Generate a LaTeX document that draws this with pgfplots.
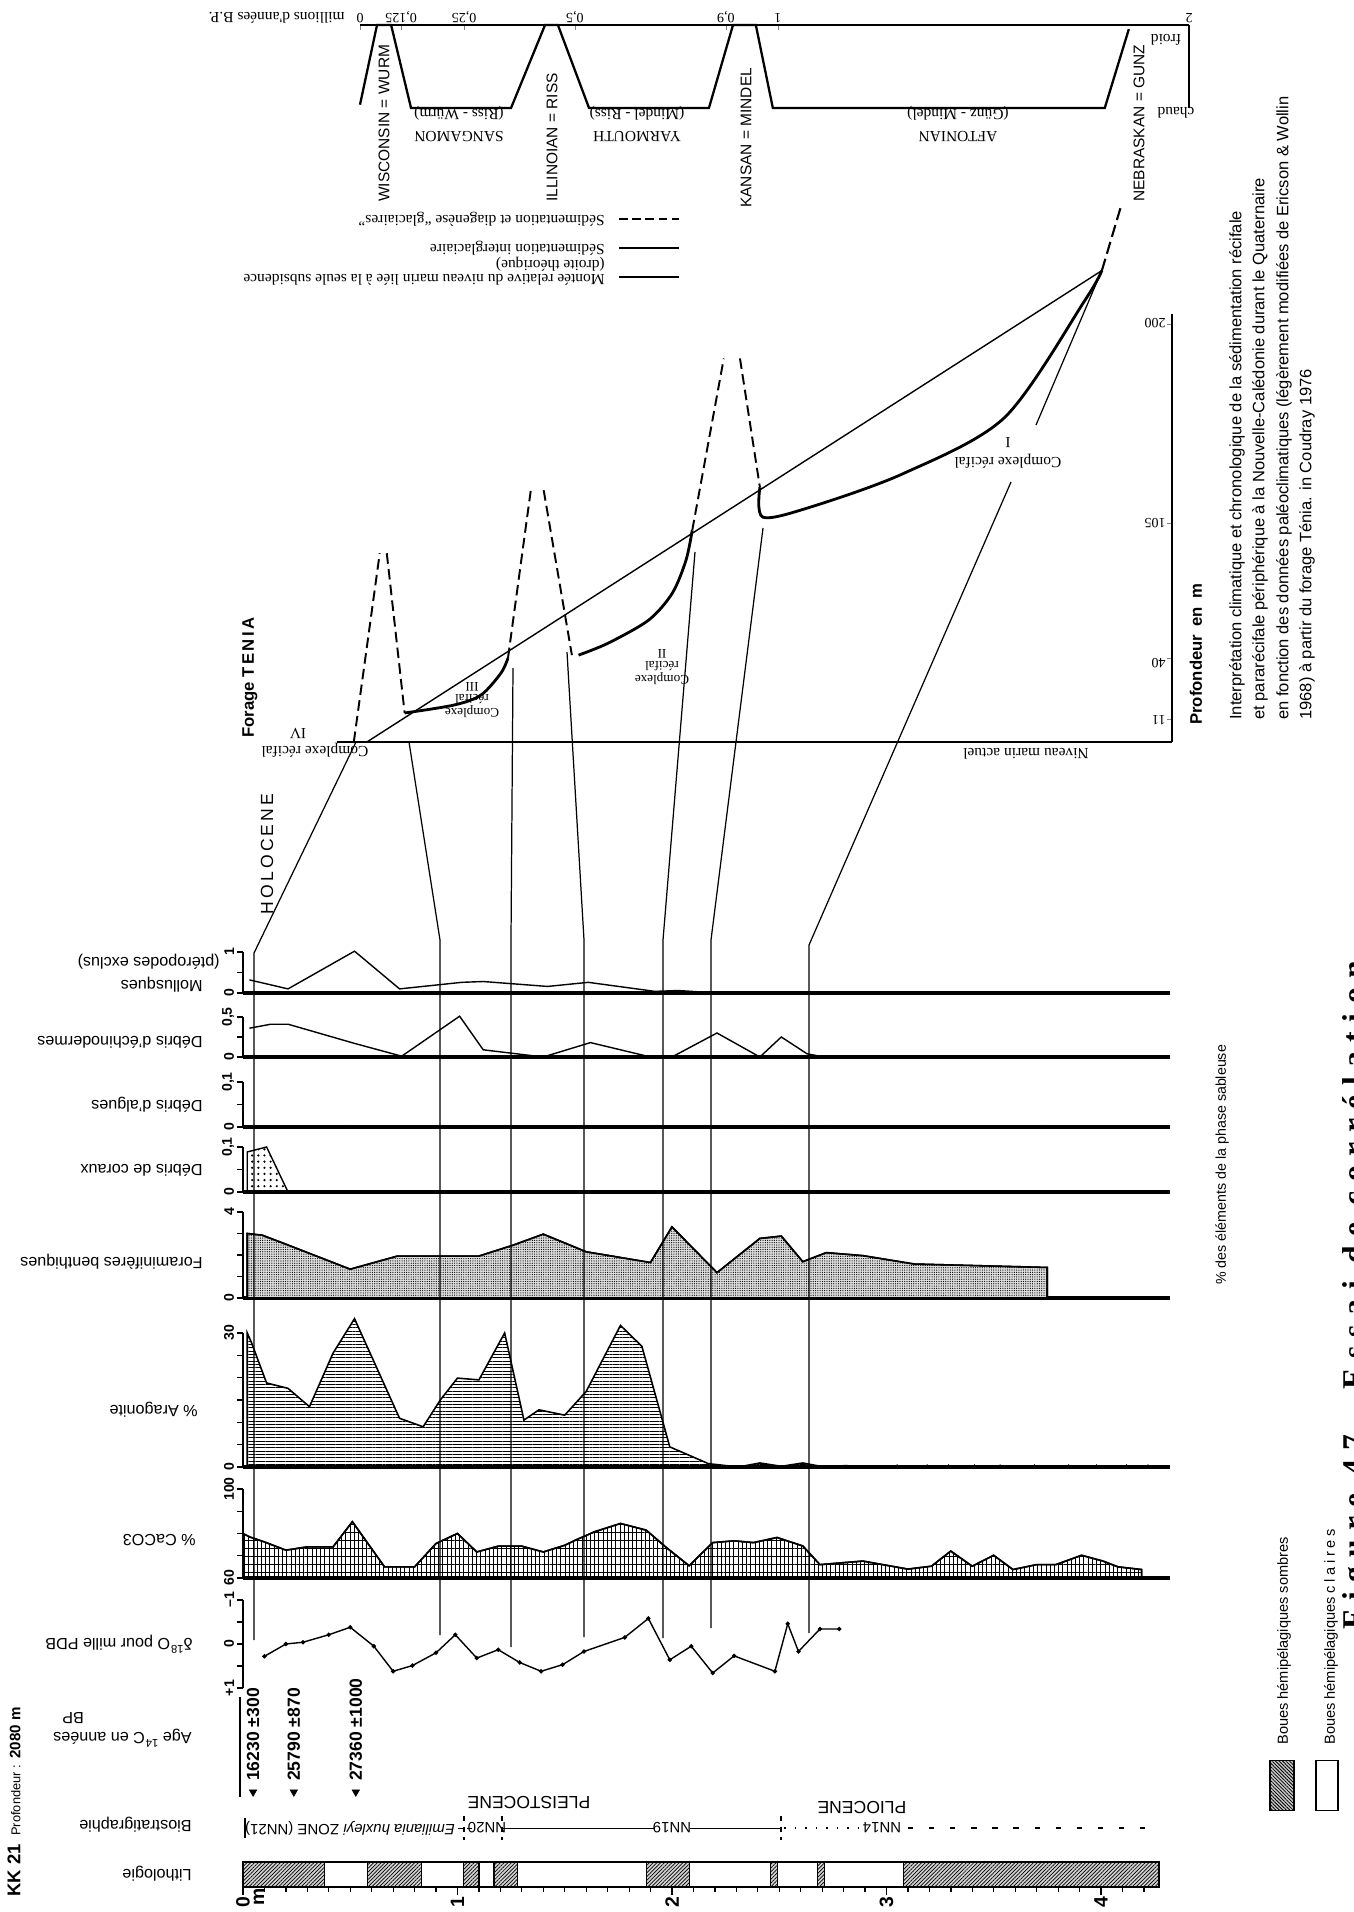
\documentclass[border=0pt]{standalone}
\usepackage{fontspec}
\setmainfont{Liberation Sans}
\newfontfamily\oldf{Liberation Serif}
\usepackage{pgfplots}
\pgfplotsset{compat=1.18}
\usetikzlibrary{patterns,patterns.meta}

\newcommand\fs[1]{\fontsize{#1}{#1}\selectfont}

\pgfplotsset{
  panel/.style={scale only axis, anchor=south west, width=185.3mm,
    xmin=0, xmax=4.32, clip=false,
    axis x line*=bottom, axis y line*=left,
    x axis line style={line width=1.8pt},
    y axis line style={line width=0.8pt},
    xtick=\empty, tick align=outside, major tick length=1.2mm,
    tick style={black, line width=0.7pt},
    yticklabel style={rotate=90, anchor=south, font=\bfseries\fs{8}, inner sep=1.5pt}},
  crv/.style={black, line width=0.8pt},
  litho/.style={draw=black, line width=0.6pt, fill=gray!35,
    postaction={pattern={Lines[angle=45,distance=1.5pt,line width=0.4pt]}}},
}

\begin{document}
\begin{tikzpicture}
\useasboundingbox (0,0) rectangle (270.6mm,-382.4mm);
\clip (0,0) rectangle (270.6mm,-382.4mm);

% ---------------- top: climate curve (millions d'annees B.P.)
\begin{axis}[scale only axis, anchor=south west, at={({360*0.2mm},{-108*0.2mm})},
  width=165.8mm, height=16.6mm, xmin=0, xmax=1.998, ymin=0, ymax=1, clip=false,
  axis x line*=top, axis y line*=right, axis line style={line width=0.9pt},
  xtick={0,0.099,0.251,0.518,0.882,1.007,1.998},
  xticklabels={0,{0,125},{0,25},{0,5},{0,9},1,2},
  xticklabel style={rotate=180, anchor=north, font=\oldf\fs{8}, inner sep=1pt},
  ytick=\empty, tick align=inside, major tick length=1mm]
\addplot[line width=1.3pt] coordinates {(0,0.04)(0.041,1)(0.075,1)(0.123,0)(0.364,0)(0.446,1)(0.477,1)(0.552,0)(0.841,0)(0.899,1)(0.954,1)(0.995,0)(1.795,0)(1.853,0.95)};
\end{axis}

% ---------------- Forage TENIA
\begin{axis}[scale only axis, anchor=south west, at={({337*0.2mm},{-742*0.2mm})},
  width=167mm, height=85.6mm, xmin=-0.055, xmax=1.957, ymin=0, ymax=205, clip=false,
  axis x line*=bottom, axis y line*=right,
  x axis line style={line width=1.6pt}, y axis line style={line width=0.8pt},
  xtick=\empty, ytick={11,40,105,200}, yticklabels={,,,}, tick align=inside,
  major tick length=1mm]
% subsidence line
\addplot[line width=0.8pt] coordinates {(0.017,0)(1.788,225.8)};
\addplot[line width=1.2pt, dash pattern=on 7pt off 3pt] coordinates {(1.788,225.8)(1.836,257.9)};
% glacial spikes (dashed)
\addplot[line width=1.1pt, dash pattern=on 6pt off 3pt] coordinates {(-0.0145,0)(0.048,90.4)};
\addplot[line width=1.1pt, dash pattern=on 6pt off 3pt] coordinates {(0.065,90.4)(0.108,13.9)};
\addplot[line width=1.1pt, dash pattern=on 6pt off 3pt] coordinates {(0.357,40.2)(0.412,120.6)};
\addplot[line width=1.1pt, dash pattern=on 6pt off 3pt] coordinates {(0.443,120.6)(0.511,41.6)};
\addplot[line width=1.1pt, dash pattern=on 6pt off 3pt] coordinates {(0.801,101.4)(0.877,183.7)};
\addplot[line width=1.1pt, dash pattern=on 6pt off 3pt] coordinates {(0.916,183.7)(0.964,122)};
% interglacial sedimentation (solid)
\addplot[line width=1.6pt, smooth, tension=0.5] coordinates {(0.108,13.9)(0.227,17.7)(0.292,22.5)(0.340,33.0)(0.357,40.2)};
\addplot[line width=1.6pt, smooth, tension=0.5] coordinates {(0.527,41.6)(0.599,47.4)(0.696,58.4)(0.753,71.3)(0.786,87.1)(0.801,101.4)};
\addplot[line width=1.6pt, smooth, tension=0.5] coordinates {(0.964,122)(0.971,107.7)(1.084,112.4)(1.311,128.7)(1.554,155.5)(1.747,211.5)(1.788,225.8)};
\end{axis}

% ---------------- Mollusques
\begin{axis}[panel, at={({243*0.2mm},{-993*0.2mm})}, height=8.2mm, ymin=0, ymax=1,
  ytick={0,0.5,1}, yticklabels={0,,1}]
\addplot[crv] coordinates {(0.03,0.32)(0.21,0.10)(0.52,1.02)(0.73,0.10)(1.02,0.26)(1.12,0.28)(1.42,0.16)(1.61,0.26)(1.92,0.04)(2.03,0.06)(2.21,0)};
\addplot[only marks, mark=|, mark size=1.3pt] coordinates {(2.44,0)(2.56,0)(2.68,0)(2.78,0)(3.26,0)(4.0,0)};
\end{axis}

% ---------------- Debris d'echinodermes
\begin{axis}[panel, at={({243*0.2mm},{-1057*0.2mm})}, height=8mm, ymin=0, ymax=0.5,
  ytick={0,0.25,0.5}, yticklabels={0,,{0,5}}]
\addplot[crv] coordinates {(0.03,0.36)(0.13,0.41)(0.21,0.41)(0.52,0.17)(0.74,0.01)(1.01,0.51)(1.12,0.09)(1.40,0)(1.62,0.18)(1.90,0)(2.00,0)(2.21,0.30)(2.41,0)(2.51,0.25)(2.63,0.04)(2.71,0)};
\end{axis}

% ---------------- Debris d'algues
\begin{axis}[panel, at={({243*0.2mm},{-1127*0.2mm})}, height=9mm, ymin=0, ymax=0.1,
  ytick={0,0.05,0.1}, yticklabels={0,,{0,1}}]
\addplot[only marks, mark=|, mark size=1.3pt] coordinates {(0.50,0)(1.10,0)(1.90,0)(2.51,0)(2.71,0)(3.75,0)};
\end{axis}

% ---------------- Debris de coraux
\begin{axis}[panel, at={({243*0.2mm},{-1192*0.2mm})}, height=9mm, ymin=0, ymax=0.1,
  ytick={0,0.05,0.1}, yticklabels={0,,{0,1}}]
\addplot[draw=black, line width=0.8pt, pattern={Dots[distance=3.5pt,radius=0.7pt]}] coordinates {(0.02,0)(0.02,0.089)(0.11,0.10)(0.21,0)} -- cycle;
\addplot[only marks, mark=|, mark size=1.3pt] coordinates {(0.50,0)(1.10,0)(1.90,0)(2.51,0)(2.71,0)(3.75,0)};
\end{axis}

% ---------------- Foraminiferes benthiques
\begin{axis}[panel, at={({243*0.2mm},{-1298*0.2mm})}, height=17.2mm, ymin=0, ymax=4,
  ytick={0,1,2,3,4}, yticklabels={0,,,,4}]
\addplot[draw=black, line width=0.9pt, fill=gray!25, postaction={pattern={Dots[distance=1.3pt,radius=0.35pt]}}]
  coordinates {(0.02,0)(0.02,3.0)(0.09,2.92)(0.19,2.54)(0.50,1.34)(0.72,1.95)(1.10,1.95)(1.26,2.46)(1.40,2.97)(1.60,2.15)(1.90,1.65)(2.00,3.31)(2.21,1.18)(2.41,2.77)(2.51,2.88)(2.61,1.69)(2.72,2.11)(2.89,1.97)(3.13,1.58)(3.75,1.42)(3.75,0)} -- cycle;
\end{axis}

% ---------------- % Aragonite
\begin{axis}[panel, at={({243*0.2mm},{-1467*0.2mm})}, height=26.8mm, ymin=0, ymax=30,
  ytick={0,5,10,15,20,25,30}, yticklabels={0,,,,,,30}]
\addplot[draw=black, line width=0.9pt, pattern={Lines[angle=0,distance=1.9pt,line width=0.55pt]}]
  coordinates {(0.02,0)(0.02,30)(0.04,27.8)(0.11,18.8)(0.21,17.6)(0.31,13.5)(0.42,25.5)(0.52,33.2)(0.73,10.9)(0.84,9)(0.92,15)(1.00,19.9)(1.10,19.5)(1.22,30)(1.31,10.5)(1.38,12.8)(1.50,11.6)(1.60,16.9)(1.76,31.7)(1.86,27)(1.99,4.5)(2.17,0.75)(2.31,0)(2.41,0.9)(2.51,0.15)(2.61,0.9)(2.71,0)(2.81,0.3)(2.91,0)} -- cycle;
\addplot[only marks, mark=triangle*, mark size=1.3pt] coordinates {(3.05,0)(3.19,0)(3.29,0)(3.41,0)(3.53,0)(3.69,0)(3.85,0)(3.98,0)(4.12,0)(4.22,0)};
\end{axis}

% ---------------- % CaCO3
\begin{axis}[panel, at={({243*0.2mm},{-1578*0.2mm})}, height=17.8mm, ymin=60, ymax=100,
  ytick={60,70,80,90,100}, yticklabels={60,,,,100}]
\addplot[draw=black, line width=0.9pt, pattern={Lines[angle=90,distance=2.4pt,line width=0.5pt]}, postaction={pattern={Lines[angle=0,distance=4.5pt,line width=0.45pt]}}]
  coordinates {(0,60)(0,80)(0.03,78.5)(0.10,76.2)(0.20,72.5)(0.30,74)(0.42,74)(0.51,85.3)(0.66,65)(0.80,65)(0.90,75.5)(1.00,80)(1.09,71.7)(1.19,74.3)(1.30,74.3)(1.40,71.7)(1.50,74.7)(1.55,77)(1.64,80.8)(1.76,84.5)(1.88,81.5)(1.97,74)(2.08,65.5)(2.19,75.9)(2.29,76.7)(2.38,75.9)(2.49,78.2)(2.61,74.4)(2.69,66)(2.89,67.6)(3.10,64)(3.21,65.3)(3.30,72.1)(3.40,65.3)(3.50,70.2)(3.59,63.8)(3.70,66)(3.79,66)(3.91,70.2)(4.01,67.6)(4.08,65)(4.19,63.8)(4.19,60)} -- cycle;
\end{axis}

% ---------------- delta 18O
\begin{axis}[panel, at={({243*0.2mm},{-1688*0.2mm})}, height=17.6mm, ymin=-1, ymax=1,
  y dir=reverse, axis x line=none,
  ytick={-1,-0.5,0,0.5,1}, yticklabels={--1,,0,,+1}]
\addplot[crv, mark=*, mark size=0.8pt] coordinates {(0.10,0.28)(0.20,0)(0.28,-0.04)(0.40,-0.21)(0.50,-0.38)(0.61,0.05)(0.70,0.62)(0.79,0.49)(0.90,0.20)(0.99,-0.21)(1.09,0.32)(1.19,0.13)(1.29,0.42)(1.39,0.62)(1.49,0.47)(1.59,0.17)(1.78,-0.15)(1.89,-0.58)(1.99,0.36)(2.09,0.05)(2.19,0.66)(2.29,0.27)(2.48,0.62)(2.54,-0.46)(2.59,0.17)(2.69,-0.34)(2.78,-0.34)};
\end{axis}

% ---------------- Age 14C
\begin{axis}[scale only axis, anchor=south west, at={({243*0.2mm},{-1797*0.2mm})},
  width=185.3mm, height=20mm, xmin=0, xmax=4.32, ymin=0, ymax=1, hide axis, clip=false]
\addplot[only marks, mark=triangle*, mark size=2.4pt, mark options={rotate=180, fill=black}] coordinates {(0.047,0.05)(0.237,0.05)(0.526,0.05)};
\node[rotate=90, anchor=west, font=\bfseries\fs{10}] at (axis cs:0.047,0.1) {16230 ±300};
\node[rotate=90, anchor=west, font=\bfseries\fs{10}] at (axis cs:0.237,0.1) {25790 ±870};
\node[rotate=90, anchor=west, font=\bfseries\fs{10}] at (axis cs:0.526,0.1) {27360 ±1000};
\end{axis}

% ---------------- Lithologie
\begin{axis}[scale only axis, anchor=south west, at={({243*0.2mm},{-1887*0.2mm})},
  width=183.2mm, height=5mm, xmin=0, xmax=4.27, ymin=0, ymax=1, clip=false,
  axis x line*=bottom, axis y line=none, axis line style={line width=1pt},
  xtick={0,1,2,3,4}, xticklabels={0,1,2,3,4},
  minor xtick={0.1,0.2,...,4.2}, tick align=outside,
  major tick length=1.6mm, minor tick length=1mm, tick style={black, line width=0.7pt},
  xticklabel style={rotate=90, anchor=east, font=\bfseries\fs{11}, inner sep=1pt}]
\addplot[litho] coordinates {(0,0)(0,1)(0.38,1)(0.38,0)} -- cycle;
\addplot[litho] coordinates {(0.58,0)(0.58,1)(0.83,1)(0.83,0)} -- cycle;
\addplot[litho] coordinates {(1.03,0)(1.03,1)(1.10,1)(1.10,0)} -- cycle;
\addplot[litho] coordinates {(1.17,0)(1.17,1)(1.28,1)(1.28,0)} -- cycle;
\addplot[litho] coordinates {(1.88,0)(1.88,1)(2.08,1)(2.08,0)} -- cycle;
\addplot[litho] coordinates {(2.46,0)(2.46,1)(2.49,1)(2.49,0)} -- cycle;
\addplot[litho] coordinates {(2.68,0)(2.68,1)(2.71,1)(2.71,0)} -- cycle;
\addplot[litho] coordinates {(3.08,0)(3.08,1)(4.27,1)(4.27,0)} -- cycle;
\addplot[draw=black, line width=1.2pt] coordinates {(0,0)(0,1)(4.27,1)(4.27,0)(0,0)};
\end{axis}

% ---------------- canvas: correlation lines and texts
\begin{axis}[scale only axis, anchor=south west, at={(0mm,-382.4mm)},
  width=270.6mm, height=382.4mm, xmin=0, xmax=1353, ymin=0, ymax=1912,
  y dir=reverse, hide axis, clip=false]
% correlation lines core -> Tenia
\addplot[line width=0.7pt] coordinates {(254,1640)(254,953)(356,742)};
\addplot[line width=0.7pt] coordinates {(440,1635)(440,940)(409,742)};
\addplot[line width=0.7pt] coordinates {(511,1647)(511,940)(513,668)};
\addplot[line width=0.7pt] coordinates {(584,1637)(584,940)(567,652)};
\addplot[line width=0.7pt] coordinates {(663,1638)(663,940)(695,552)};
\addplot[line width=0.7pt] coordinates {(711,1628)(711,940)(763,528)};
\addplot[line width=0.7pt] coordinates {(809,1633)(809,945)(1011,482)};
\addplot[line width=0.7pt] coordinates {(1036,425)(1102,270)};
% age column line
\addplot[line width=0.7pt] coordinates {(240,1697)(240,1797)};
% biostratigraphy
\addplot[line width=0.7pt] coordinates {(245,1818)(245,1838)};
\addplot[line width=0.6pt, dashed] coordinates {(464,1816)(464,1840)};
\addplot[line width=0.6pt, dashed] coordinates {(502,1816)(502,1840)};
\addplot[line width=0.6pt, dashed] coordinates {(781,1816)(781,1840)};
\addplot[line width=0.6pt, dash pattern=on 3pt off 2pt] coordinates {(458,1828)(473,1828)};
\addplot[line width=0.6pt] coordinates {(502,1828)(655,1828)};
\addplot[line width=0.6pt] coordinates {(690,1828)(781,1828)};
\addplot[line width=0.8pt, dash pattern=on 1pt off 5pt] coordinates {(784,1828)(858,1828)};
\addplot[line width=0.8pt, dash pattern=on 3pt off 9pt] coordinates {(908,1828)(1153,1828)};
% legend samples
\addplot[line width=1.3pt, dash pattern=on 5pt off 2.5pt] coordinates {(619,219)(679,219)};
\addplot[line width=1.6pt] coordinates {(619,248)(679,248)};
\addplot[line width=0.7pt] coordinates {(619,277)(679,277)};

% legend boxes
\draw[line width=0.6pt, fill=gray!45, postaction={pattern={Lines[angle=-45,distance=1.4pt,line width=0.45pt]}}] (1270,1760) rectangle (1294,1810);
\draw[line width=0.6pt] (1316,1760) rectangle (1338,1810);

% --- panel labels (upside down)
\begin{scope}[every node/.style={rotate=180, font=\fs{9.2}, inner sep=0pt}]
\node[anchor=west] at (220,962) {(ptéropodes exclus)};
\node[anchor=west] at (203,985) {Mollusques};
\node[anchor=west] at (203,1042) {Débris d'échinodermes};
\node[anchor=west] at (203,1105) {Débris d'algues};
\node[anchor=west] at (203,1170) {Débris de coraux};
\node[anchor=west] at (203,1262) {Foraminifères benthiques};
\node[anchor=west] at (198,1410) {\% Aragonite};
\node[anchor=west] at (196,1540) {\% CaCO3};
\node[anchor=west] at (193,1644) {δ\textsuperscript{18}O pour mille PDB};
\node[anchor=west] at (192,1738) {Age \textsuperscript{14}C en années};
\node[anchor=east] at (62,1718) {BP};
\node[anchor=west] at (192,1825) {Biostratigraphie};
\node[anchor=west] at (192,1874) {Lithologie};
\node[font=\fs{8.5}] at (350,1828) {\textit{Emiliania huxleyi} ZONE (NN21)};
\node[font=\fs{8.5}] at (487,1828) {NN20};
\node[font=\fs{8.5}] at (672,1828) {NN19};
\node[font=\fs{8.5}] at (882,1828) {NN14};
\node[font=\fs{10}] at (529,1803) {PLEISTOCENE};
\node[font=\fs{10}] at (862,1808) {PLIOCENE};
\end{scope}

% --- texts reading bottom to top
\node[rotate=90, anchor=west, inner sep=0pt] at (14,1897) {{\bfseries\fs{10.5}KK 21}\enspace{\fs{7.3}Profondeur :} {\bfseries\fs{8.6}2080 m}};
\node[rotate=90, font=\bfseries\fs{11}] at (259,1897) {m};
\node[rotate=90, font=\fs{10}\addfontfeature{LetterSpace=18}] at (267,854) {HOLOCENE};
\node[rotate=90, anchor=west, inner sep=0pt, font=\fs{8.1}] at (1222,1285) {\% des éléments de la phase sableuse};
\node[rotate=90, anchor=west, inner sep=0pt, font=\bfseries\fs{9.5}] at (250,738) {Forage {\addfontfeature{LetterSpace=15}TENIA}};
\node[rotate=90, anchor=west, inner sep=0pt, font=\bfseries\fs{9.5}] at (1196,725) {Profondeur\enspace en\enspace m};
\node[rotate=90, anchor=west, inner sep=0pt, font=\fs{9.4}] at (1237,720) {Interprétation climatique et chronologique de la sédimentation récifale};
\node[rotate=90, anchor=west, inner sep=0pt, font=\fs{9.4}] at (1260,720) {et pararécifale périphérique à la Nouvelle-Calédonie durant le Quaternaire};
\node[rotate=90, anchor=west, inner sep=0pt, font=\fs{9.4}] at (1284,720) {en fonction des données paléoclimatiques (légèrement modifiées de Ericson \& Wollin};
\node[rotate=90, anchor=west, inner sep=0pt, font=\fs{9.4}] at (1307,720) {1968) à partir du forage Ténia. in Coudray 1976};
\node[rotate=90, anchor=west, inner sep=0pt, font=\fs{8.3}] at (1284,1745) {Boues hémipélagiques sombres};
\node[rotate=90, anchor=west, inner sep=0pt, font=\fs{8.3}] at (1331,1745) {Boues hémipélagiques {\addfontfeature{LetterSpace=25}claires}};
\node[rotate=90, anchor=base west, inner sep=0pt, font=\oldf\bfseries\fs{18}\addfontfeature{LetterSpace=30}] at (1364,1630) {Figure 47 - Essai de corrélation};
% glacial names
\node[rotate=90, anchor=west, inner sep=0pt, font=\fs{8.8}] at (384,202) {WISCONSIN = WURM};
\node[rotate=90, anchor=west, inner sep=0pt, font=\fs{8.8}] at (552,202) {ILLINOIAN = RISS};
\node[rotate=90, anchor=west, inner sep=0pt, font=\fs{8.8}] at (746,208) {KANSAN = MINDEL};
\node[rotate=90, anchor=west, inner sep=0pt, font=\fs{8.8}] at (1139,202) {NEBRASKAN = GUNZ};

% --- old typewritten labels (upside down)
\begin{scope}[every node/.style={rotate=180, font=\oldf\fs{8.8}, inner sep=0pt}]
\node[anchor=west] at (345,18) {millions d'années B.P.};
\node at (1166,40) {froid};
\node at (1176,113) {chaud};
\node at (459,137) {SANGAMON};
\node at (459,113) {(Riss - Würm)};
\node at (637,137) {YARMOUTH};
\node at (637,113) {(Mindel - Riss)};
\node at (958,137) {AFTONIAN};
\node at (958,113) {(Günz - Mindel)};
\node[anchor=west] at (605,219) {Sédimentation et diagenèse “glaciaires”};
\node[anchor=west] at (605,248) {Sédimentation interglaciaire};
\node[anchor=west] at (605,280) {Montée relative du niveau marin liée à la seule subsidence};
\node[anchor=west] at (605,264) {(droite théorique)};
\node[anchor=west, font=\oldf\fs{8}] at (1166,720) {11};
\node[anchor=west, font=\oldf\fs{8}] at (1166,663) {40};
\node[anchor=west, font=\oldf\fs{8}] at (1166,523) {105};
\node[anchor=west, font=\oldf\fs{8}] at (1166,323) {200};
\node at (315,750) {Complexe récifal};
\node at (298,733) {IV};
\node[align=center, font=\oldf\fs{7.5}\linespread{0.9}\selectfont] at (472,700) {Complexe\\récifal\\III};
\node[align=center, font=\oldf\fs{7.5}\linespread{0.9}\selectfont] at (662,667) {Complexe\\récifal\\II};
\node at (1008,461) {Complexe récifal};
\node at (1008,443) {I};
\node at (1026,754) {Niveau marin actuel};
\end{scope}
\end{axis}
\end{tikzpicture}
\end{document}
